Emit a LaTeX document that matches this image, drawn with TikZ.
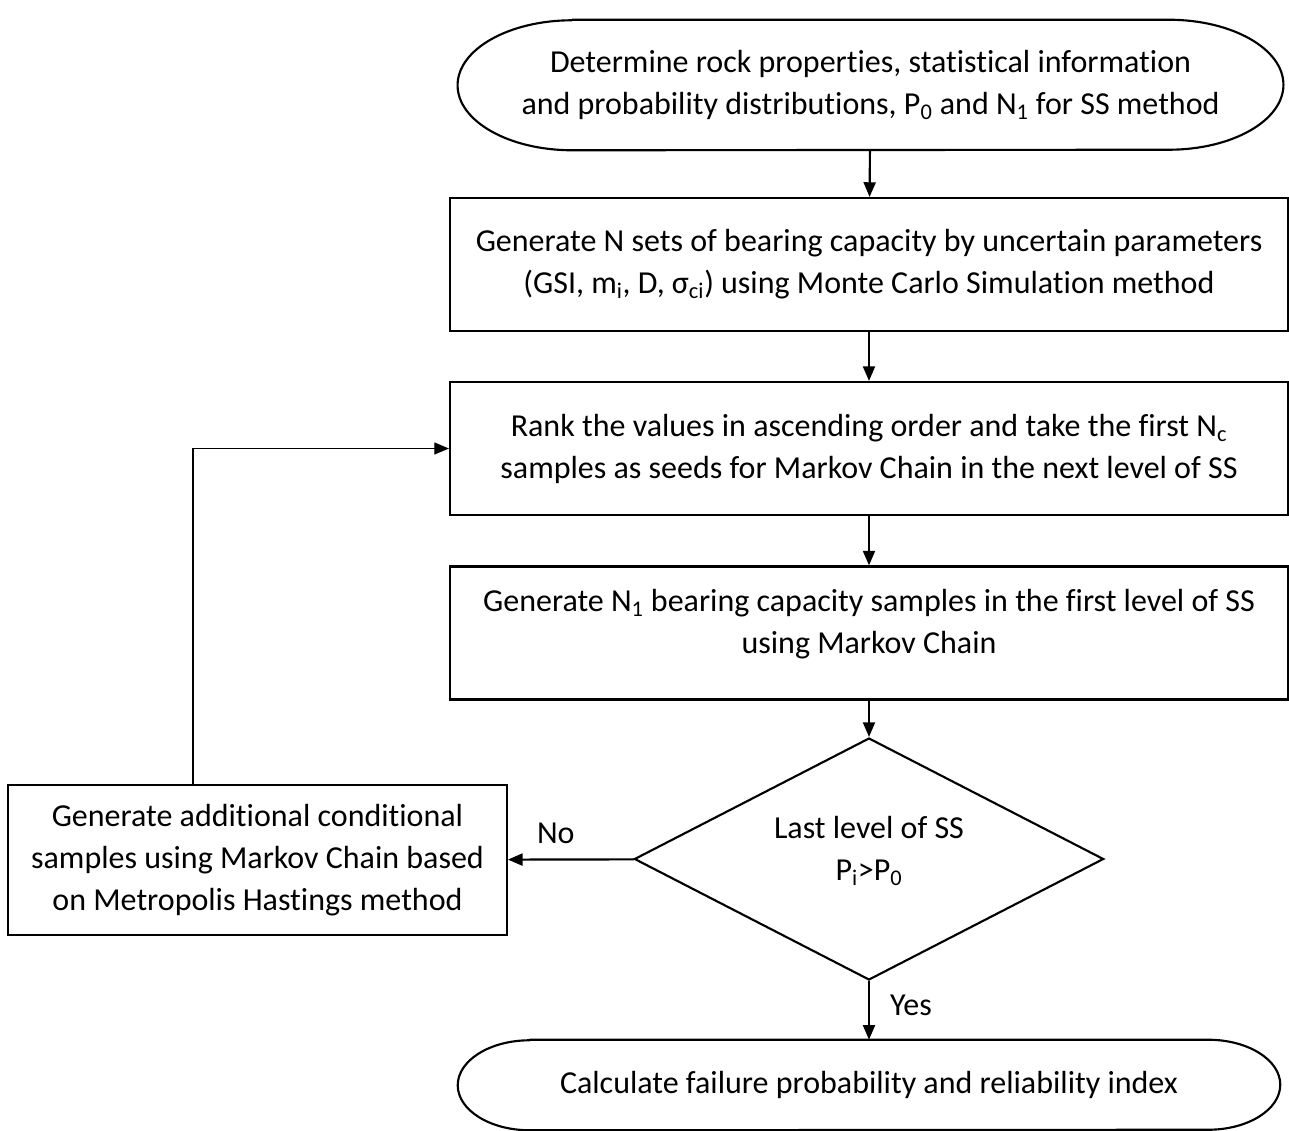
\documentclass[tikz,border=0pt]{standalone}
\usepackage{fontspec}
\setmainfont{Carlito}[Ligatures=CommonOff]
\usetikzlibrary{arrows.meta,shapes.geometric}
\tikzset{
	>={Triangle[length=11pt,width=9pt]}, % filled arrow heads
	txt/.style={font=\fontsize{24}{31.5}\selectfont,align=center},
	block/.style={txt,draw,line width=1.6pt,inner sep=0pt},
	box/.style={block,rectangle,minimum width=628.5pt,minimum height=99.75pt},
	box side/.style={block,rectangle,minimum width=374pt,minimum height=112.5pt},
	term/.style={txt,rectangle,inner sep=0pt}, % outline drawn by \termline
	decide/.style={block,diamond,aspect=1.94,minimum width=352pt,minimum height=181.5pt},
	connect/.style={->,line width=1.6pt},
	connect thin/.style={->,line width=1pt},
	lbl/.style={txt,inner sep=2pt}
}
% outline with elliptic ends round a terminal node: #1 node, #2 x radius, #3 y radius
\newcommand\termline[3]{%
  \draw[line width=1.6pt] ([xshift=#2]#1.north west) -- ([xshift=-#2]#1.north east)
    arc[start angle=90,end angle=-90,x radius=#2,y radius=#3]
    -- ([xshift=#2]#1.south west)
    arc[start angle=270,end angle=90,x radius=#2,y radius=#3];
}

\begin{document}
\begin{tikzpicture}[x=0.75pt,y=-0.75pt]
  \useasboundingbox (0,0) rectangle (1289,1131);
  \def\xc{869} % x of the main column

  % MAIN COLUMN
  \node[term,minimum width=619pt,minimum height=97.5pt] (start) at (870.5,85)
    {Determine rock properties, statistical information\\and probability distributions, P\textsubscript{0} and N\textsubscript{1} for SS method};
  \termline{start}{86pt}{48.75pt}
  \node[box] (mcs) at (\xc,264.5)
    {Generate N sets of bearing capacity by uncertain parameters\\(GSI, m\textsubscript{i}, D, σ\textsubscript{ci}) using Monte Carlo Simulation method};
  \node[box] (rank) at (\xc,448.5)
    {Rank the values in ascending order and take the first N\textsubscript{c}\\samples as seeds for Markov Chain in the next level of SS};
  \node[box] (chain) at (\xc,633)
    {Generate N\textsubscript{1} bearing capacity samples in the first level of SS\\using Markov Chain\\[-14pt]};
  \node[decide] (last) at (\xc,859)
    {Last level of SS\\P\textsubscript{i}>P\textsubscript{0}\\[-16pt]};
  \node[term,minimum width=616.5pt,minimum height=67.5pt] (stop) at (\xc,1085)
    {Calculate failure probability and reliability index};
  \termline{stop}{54pt}{33.75pt}

  % SIDE BRANCH
  \node[box side] (extra) at (257.5,860)
    {Generate additional conditional\\samples using Markov Chain based\\on Metropolis Hastings method};

  % ARROWS
  \draw[connect] (start) -- (mcs);
  \draw[connect] (mcs) -- (rank);
  \draw[connect] (rank) -- (chain);
  \draw[connect] (chain) -- (last);
  \draw[connect] (last) -- node[lbl,pos=0.62,above=9pt] {No} (extra);
  \draw[connect] (last) -- node[lbl,pos=0.42,right=13pt] {Yes} (stop);
  \draw[connect thin] (extra.north -| 193,0) |- (rank.west);

\end{tikzpicture}
\end{document}
